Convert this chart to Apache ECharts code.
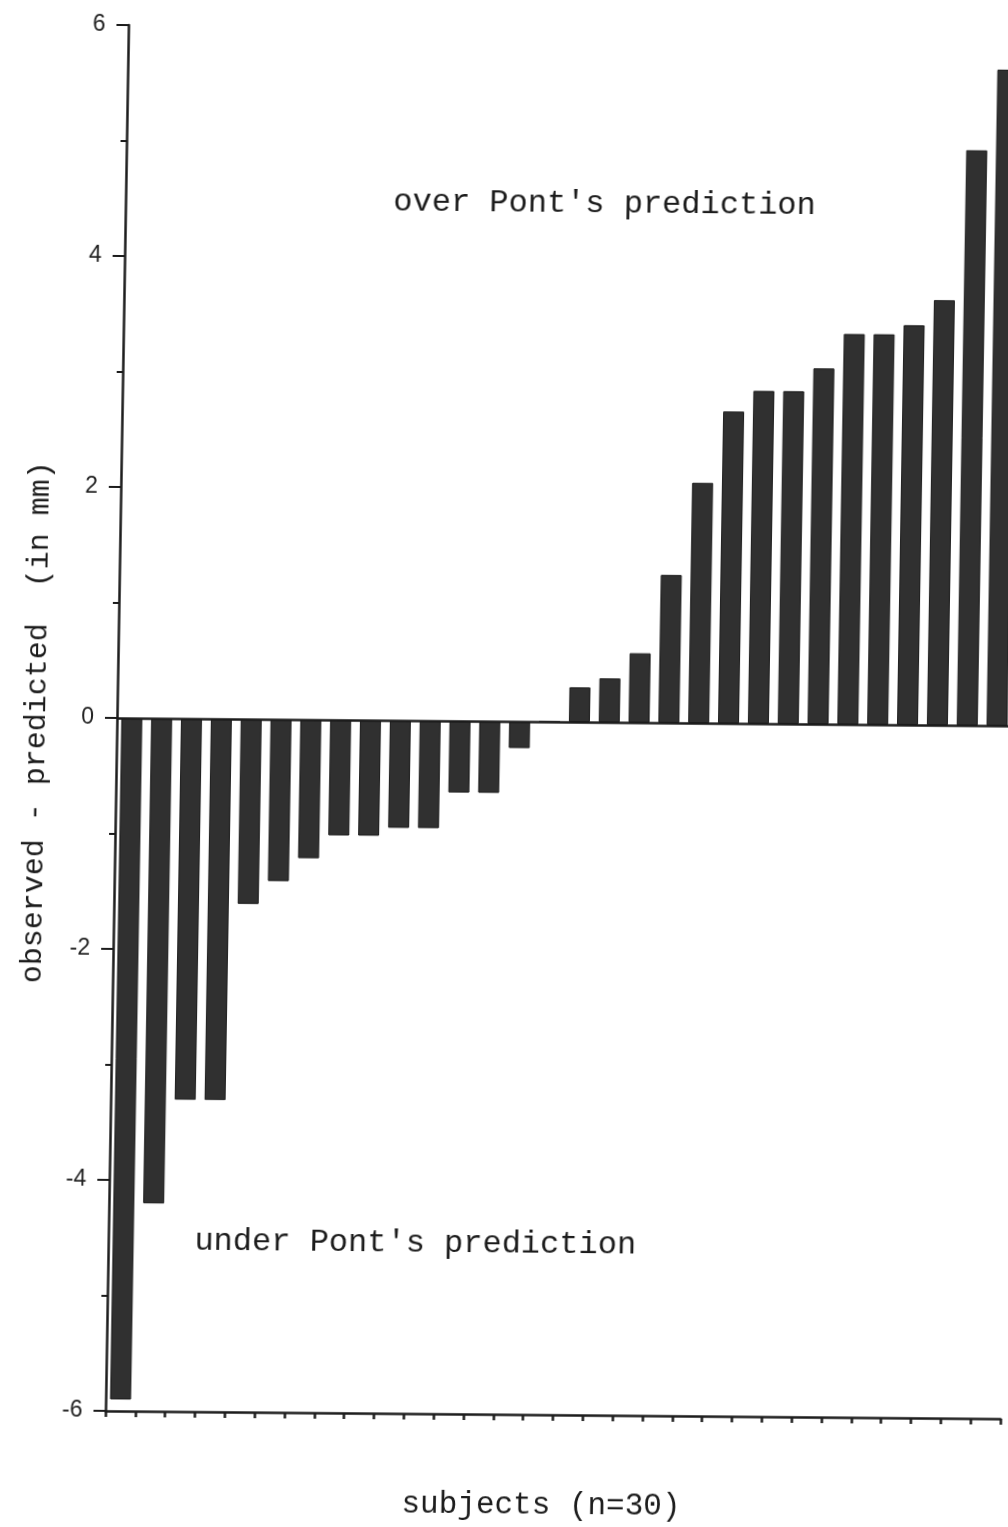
<!DOCTYPE html>
<html>
<head>
<meta charset="utf-8">
<script src="https://cdn.jsdelivr.net/npm/echarts@6/dist/echarts.min.js"></script>
<style>
html, body { margin: 0; padding: 0; background: #fff; overflow: hidden; width: 1008px; height: 1527px; }
#chart { width: 1040px; height: 1527px; transform-origin: 117px 716px; transform: rotate(0.5deg) skewX(-0.45deg); }
</style>
</head>
<body>
<div id="chart"></div>
<script>
// Data
const categories = ['1','2','3','4','5','6','7','8','9','10','11','12','13','14','15',
                    '16','17','18','19','20','21','22','23','24','25','26','27','28','29','30'];
const differences = [-5.9, -4.2, -3.3, -3.3, -1.6, -1.4, -1.2, -1.0, -1.0, -0.93,
                     -0.93, -0.62, -0.62, -0.23, 0, 0.3, 0.38, 0.6, 1.28, 2.08,
                     2.7, 2.88, 2.88, 3.08, 3.38, 3.38, 3.46, 3.68, 4.98, 5.68];
const yTicks = [-6, -4, -2, 0, 2, 4, 6];
const yAxisTitle = 'observed - predicted  (in mm)';
const xAxisTitle = 'subjects (n=30)';
const overLabel = "over Pont's prediction";
const underLabel = "under Pont's prediction";

const ink = '#1c1c1c';
const mono = '"Liberation Mono", "Courier New", monospace';
const sans = '"Liberation Sans", Arial, sans-serif';

const chart = echarts.init(document.getElementById('chart'), null, { renderer: 'canvas' });
chart.setOption({
  animation: false,
  backgroundColor: '#fff',
  grid: { left: 117, top: 25, width: 895, height: 1386, containLabel: false, outerBoundsMode: 'none' },
  xAxis: {
    type: 'category',
    data: categories,
    boundaryGap: true,
    position: 'bottom',
    axisLine: { onZero: false, lineStyle: { color: ink, width: 2.5 } },
    axisTick: { show: true, interval: 0, length: 6, lineStyle: { color: ink, width: 2.5 } },
    axisLabel: { show: false },
    splitLine: { show: false }
  },
  yAxis: {
    type: 'value',
    min: yTicks[0],
    max: yTicks[yTicks.length - 1],
    interval: 2,
    axisLine: { show: true, lineStyle: { color: ink, width: 2.5 } },
    axisTick: { show: true, length: 12, lineStyle: { color: ink, width: 2 } },
    minorTick: { show: true, splitNumber: 2, length: 6, lineStyle: { color: ink, width: 2 } },
    axisLabel: { margin: 23, fontFamily: sans, fontSize: 23, color: '#222' },
    splitLine: { show: false }
  },
  series: [{
    type: 'bar',
    data: differences,
    barWidth: 21,
    itemStyle: { color: '#303030', borderColor: '#1a1a1a', borderWidth: 1 },
    markLine: {
      silent: true,
      symbol: 'none',
      label: { show: false },
      lineStyle: { color: ink, width: 2.5, type: 'solid' },
      data: [{ yAxis: 0 }]
    }
  }],
  graphic: [
    { type: 'text', x: 596, y: 200,
      style: { text: overLabel, font: '32px ' + mono, fill: ink, align: 'center', verticalAlign: 'middle' } },
    { type: 'text', x: 424, y: 1241,
      style: { text: underLabel, font: '32px ' + mono, fill: ink, align: 'center', verticalAlign: 'middle' } },
    { type: 'text', x: 554, y: 1502,
      style: { text: xAxisTitle, font: '31px ' + mono, fill: ink, align: 'center', verticalAlign: 'middle' } },
    { type: 'text', x: 37, y: 723, rotation: Math.PI / 2,
      style: { text: yAxisTitle, font: '30px ' + mono, fill: ink, align: 'center', verticalAlign: 'middle' } }
  ]
});
</script>
</body>
</html>
